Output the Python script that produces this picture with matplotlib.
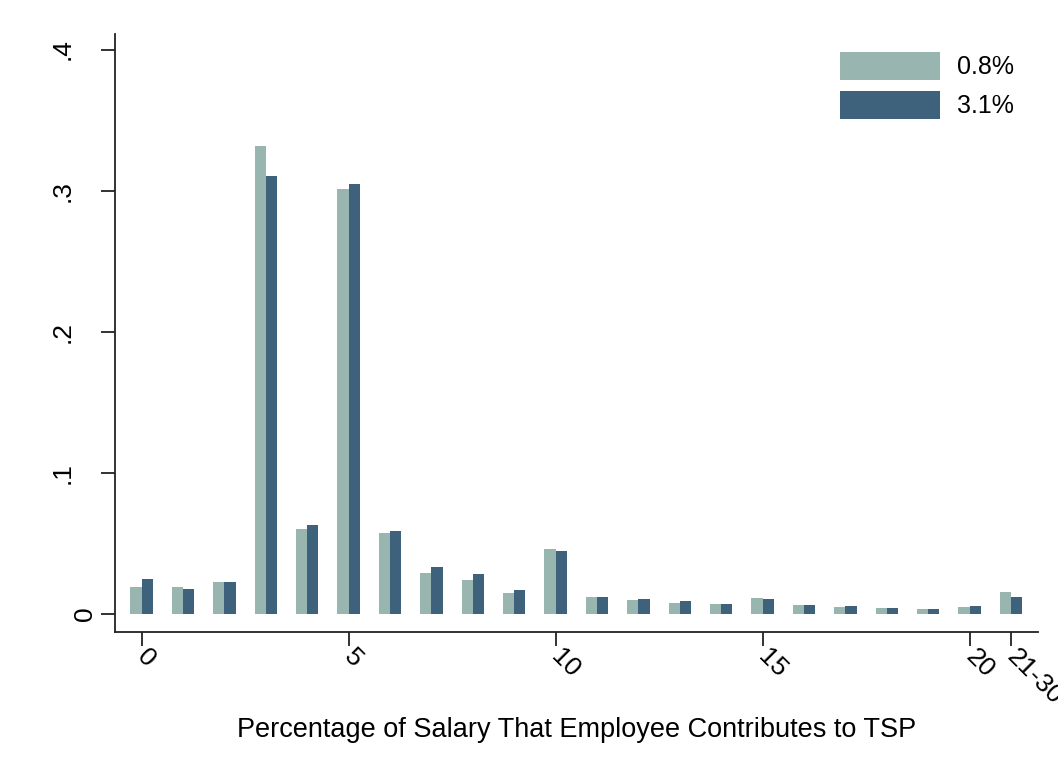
import numpy as np
import matplotlib.pyplot as plt
import matplotlib.transforms as mtransforms

plt.rcParams['font.family'] = ['Liberation Sans', 'DejaVu Sans']

# contribution rate categories (21 = 21-30 bucket)
pct = np.arange(22)
tick_pos = [0, 5, 10, 15, 20, 21]
tick_lab = ['0', '5', '10', '15', '20', '21-30']

share_08 = [0.0194, 0.0189, 0.0229, 0.3314, 0.0601, 0.3009, 0.0572, 0.0293,
            0.0243, 0.0147, 0.0459, 0.0123, 0.0099, 0.0076, 0.0071, 0.0113,
            0.0064, 0.0050, 0.0043, 0.0038, 0.0050, 0.0154]
share_31 = [0.0248, 0.0179, 0.0225, 0.3106, 0.0633, 0.3050, 0.0589, 0.0333,
            0.0284, 0.0170, 0.0447, 0.0123, 0.0104, 0.0094, 0.0071, 0.0106,
            0.0064, 0.0057, 0.0043, 0.0038, 0.0057, 0.0123]

c_light = '#98b5af'
c_dark = '#3e627c'

fig = plt.figure(figsize=(10.58, 7.7), dpi=100)
ax = fig.add_axes([0.1084, 0.1796, 0.8726, 0.7762])

w = 0.27
ax.bar(pct - w / 2, share_08, width=w, color=c_light, label='0.8%')
ax.bar(pct + w / 2, share_31, width=w, color=c_dark, label='3.1%')

ax.set_xlim(-0.65, 21.65)
ax.set_ylim(-0.0126, 0.411)

for s in ['top', 'right']:
    ax.spines[s].set_visible(False)
for s in ['left', 'bottom']:
    ax.spines[s].set_linewidth(1.3)
    ax.spines[s].set_color('#222222')

ax.set_yticks([0, 0.1, 0.2, 0.3, 0.4])
ax.set_yticklabels(['0', '.1', '.2', '.3', '.4'], rotation=90, va='center',
                   fontsize=19)
ax.set_xticks(tick_pos)
ax.set_xticklabels(tick_lab, rotation=-45, ha='left', va='top',
                   rotation_mode='anchor', fontsize=19)
ax.tick_params(axis='both', length=10, width=1.3, color='#222222')
ax.tick_params(axis='y', pad=19)
ax.tick_params(axis='x', pad=2)

# nudge labels: x labels start at the tick, y "0" sits closer to the axis
dx = mtransforms.ScaledTranslation(8 / 100, 4 / 100, fig.dpi_scale_trans)
for lab in ax.get_xticklabels():
    lab.set_transform(lab.get_transform() + dx)
d0 = mtransforms.ScaledTranslation(23 / 100, 0, fig.dpi_scale_trans)
y0 = ax.get_yticklabels()[0]
y0.set_transform(y0.get_transform() + d0)

fig.text(0.545, 0.043, 'Percentage of Salary That Employee Contributes to TSP',
         fontsize=19.5, ha='center', va='baseline')

ax.legend(loc='upper right', bbox_to_anchor=(1014 / 1058, 1 - 52 / 770),
          bbox_transform=fig.transFigure, frameon=False, fontsize=18,
          handlelength=4.0, handleheight=1.36, labelspacing=0.42,
          handletextpad=0.68, borderpad=0, borderaxespad=0)

fig.savefig('out.png', dpi=100)
